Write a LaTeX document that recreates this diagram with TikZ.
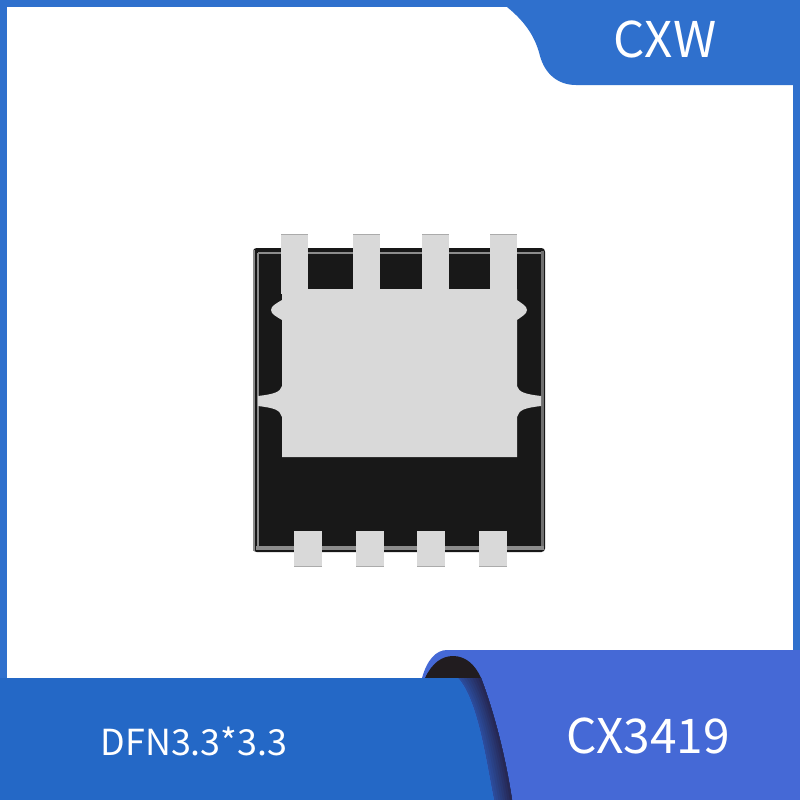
\documentclass[tikz,border=0pt]{standalone}
\usepackage{fontspec}
\setmainfont{Noto Sans CJK SC}
\usepackage{tikz}
\definecolor{tabblue}{HTML}{2F70CD}
\definecolor{bandblue}{HTML}{2468C6}
\definecolor{panelblue}{HTML}{4569D6}
\definecolor{foldtop}{HTML}{211C1F}
\definecolor{foldin}{HTML}{2C4C9C}
\definecolor{foldout}{HTML}{25234A}
\definecolor{chipblack}{HTML}{181818}
\definecolor{chipedge}{HTML}{8C8C8C}
\definecolor{padgray}{HTML}{D9D9D9}
\definecolor{pinline}{HTML}{ABABAB}
\begin{document}
\begin{tikzpicture}[x=0.01cm,y=-0.01cm,
    pad/.style={fill=padgray,draw=none},
    label/.style={text=white,inner sep=0pt,anchor=center}]
    \useasboundingbox (0,0) rectangle (800,800);
    % frame
    \fill[tabblue] (0,0) rectangle (800,800);
    \fill[white] (7,7) rectangle (793,700);
    % corner tab
    \fill[tabblue] (507,7) .. controls (528,24) and (536,40) .. (540,56)
        .. controls (545,74) and (558,85) .. (576,85) -- (800,85) -- (800,0) -- (507,0) -- cycle;
    % bottom band and panel
    \fill[panelblue] (422,678) .. controls (427,660) and (436,650) .. (447,650)
        -- (800,650) -- (800,800) -- (480,800) -- cycle;
    \fill[foldtop] (425,678) .. controls (432,663) and (442,656) .. (453,656)
        .. controls (465,656) and (475,664) .. (481,678) -- cycle;
    % fold, darker towards its outer edge
    \foreach \t in {0,12.5,...,87.5}
        \fill[foldout!\t!foldin] ({458+.23*\t},678)
            .. controls ({478+.17*\t},{700+.15*\t}) and ({486+.2*\t},760) .. ({494+.18*\t},800)
            -- (512,800) .. controls (506,760) and (495,715) .. (481,678) -- cycle;
    \fill[bandblue] (0,678) -- (458,678) .. controls (478,700) and (486,760) .. (494,800) -- (0,800) -- cycle;
    % package
    \fill[chipblack,rounded corners=1pt] (253,248) rectangle (545,552);
    \draw[chipedge,line width=0.7pt] (254,250) -- (254,551);
    \draw[chipedge,line width=0.7pt] (258,253) -- (258,546);
    \draw[chipedge,line width=0.7pt] (258,253) -- (541,253);
    \draw[chipedge!80!black,line width=1.1pt] (542.5,251) -- (542.5,549);
    \draw[chipedge,line width=1.1pt] (256,548) -- (544,548);
    % die pad with its ears
    \fill[pad] (282,289) -- (517,289) -- (517,300)
        .. controls (521,303) and (527,306) .. (527,310) .. controls (527,314) and (521,317) .. (517,320)
        -- (517,386) .. controls (519,392) and (524,394) .. (541,396) -- (541,406)
        .. controls (524,408) and (519,410) .. (517,417) -- (517,457) -- (282,457) -- (282,417)
        .. controls (280,410) and (275,408) .. (258,406) -- (258,396)
        .. controls (275,394) and (280,392) .. (282,386) -- (282,320)
        .. controls (277,317) and (271,314) .. (271,310) .. controls (271,306) and (277,303) .. (282,300) -- cycle;
    % pins
    \foreach \px in {281,353,422,490} {
        \fill[pad] (\px,234) rectangle ++(27,60);
        \draw[pinline,line width=0.3pt] (\px,234.5) -- ++(27,0);
    }
    \foreach \px in {294,356,417,479} {
        \fill[pad] (\px,531) rectangle ++(28,36);
        \draw[pinline,line width=0.3pt] (\px,566.5) -- ++(28,0);
    }
    % labels
    \node(brand)[label,font=\fontsize{14}{14}\selectfont] at (665,39) {CXW};
    \node(package)[label,font=\fontsize{10.2}{10.2}\selectfont] at (194,741) {DFN3.3*3.3};
    \node(part)[label,font=\fontsize{13.6}{13.6}\selectfont] at (648,736) {CX3419};
\end{tikzpicture}
\end{document}
